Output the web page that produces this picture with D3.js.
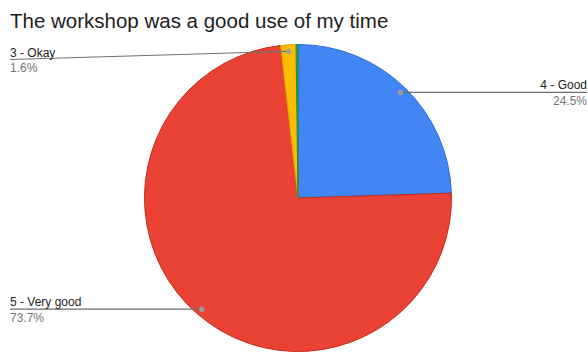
<!DOCTYPE html>
<html>
<head>
<meta charset="utf-8">
<script src="https://cdn.jsdelivr.net/npm/d3@7"></script>
<style>
  html, body { margin: 0; padding: 0; background: #fff; }
  svg { display: block; }
  text { font-family: "Liberation Sans", Arial, sans-serif; }
</style>
</head>
<body>
<svg id="chart" width="588" height="352"></svg>
<script>
// ---- data ----
const title = "The workshop was a good use of my time";
const categories = ["4 - Good", "5 - Very good", "3 - Okay", "2 - Poor"];
const percents = [24.5, 73.7, 1.6, 0.2];
const colors = ["#4285F4", "#EA4335", "#FBBC04", "#34A853"];
const strokes = ["#2a6fdb", "#c5291c", "#e0a800", "#1e8e3e"];

// ---- layout ----
const W = 588, H = 352;
const cx = 298, cy = 198, R = 153.5;
const dotR = R - 6.5;
const minLabelPct = 1;            // slices below this get no label
const leftX = 10, rightX = 587;
// vertical position of label line at the outer end (null = same as dot)
const labelLineY = { "3 - Okay": 59.5 };

const svg = d3.select("#chart");

svg.append("text")
  .attr("x", 10).attr("y", 27.5)
  .attr("font-size", 20.5)
  .attr("fill", "#212121")
  .text(title);

const pie = d3.pie().sort(null).value(d => d.v);
const data = categories.map((c, i) => ({ c, v: percents[i], i }));
const arcs = pie(data);
const arc = d3.arc().innerRadius(0).outerRadius(R);

const g = svg.append("g").attr("transform", `translate(${cx},${cy})`);
g.selectAll("path").data(arcs).join("path")
  .attr("d", arc)
  .attr("fill", d => colors[d.data.i])
  .attr("stroke", d => strokes[d.data.i])
  .attr("stroke-width", 1)
  .attr("stroke-linejoin", "round");

const labels = svg.append("g");
arcs.filter(a => a.data.v >= minLabelPct).forEach(a => {
  const mid = (a.startAngle + a.endAngle) / 2;
  const dx = cx + dotR * Math.sin(mid);
  const dy = cy - dotR * Math.cos(mid);
  const right = Math.sin(mid) > 0;
  const lx = right ? rightX : leftX;
  const ly = labelLineY[a.data.c] != null ? labelLineY[a.data.c] : dy;
  labels.append("line")
    .attr("x1", dx).attr("y1", dy).attr("x2", lx).attr("y2", ly)
    .attr("stroke", "#6f6f6f").attr("stroke-width", 1.2);
  labels.append("circle")
    .attr("cx", dx).attr("cy", dy).attr("r", 2.6)
    .attr("fill", "#9e9e9e");
  labels.append("text")
    .attr("x", lx).attr("y", ly - 3)
    .attr("text-anchor", right ? "end" : "start")
    .attr("font-size", 12).attr("fill", "#222")
    .text(a.data.c);
  labels.append("text")
    .attr("x", lx).attr("y", ly + 12.5)
    .attr("text-anchor", right ? "end" : "start")
    .attr("font-size", 12).attr("fill", "#757575")
    .text(d3.format(".1f")(a.data.v) + "%");
});
</script>
</body>
</html>
